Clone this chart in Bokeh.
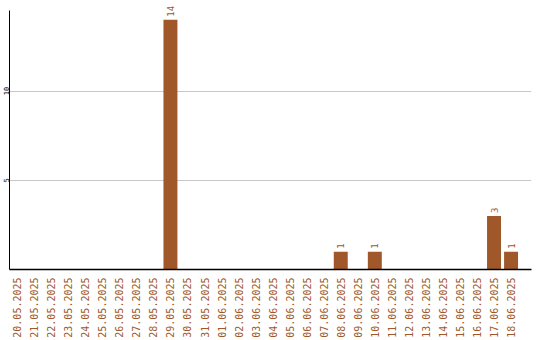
import math
from bokeh.plotting import figure
from bokeh.models import ColumnDataSource, FixedTicker, Range1d
from bokeh.core.properties import value
from bokeh.embed import file_html
from bokeh.resources import INLINE

# Daily counts, 20.05.2025 - 18.06.2025
days = [
    "20.05.2025", "21.05.2025", "22.05.2025", "23.05.2025", "24.05.2025",
    "25.05.2025", "26.05.2025", "27.05.2025", "28.05.2025", "29.05.2025",
    "30.05.2025", "31.05.2025", "01.06.2025", "02.06.2025", "03.06.2025",
    "04.06.2025", "05.06.2025", "06.06.2025", "07.06.2025", "08.06.2025",
    "09.06.2025", "10.06.2025", "11.06.2025", "12.06.2025", "13.06.2025",
    "14.06.2025", "15.06.2025", "16.06.2025", "17.06.2025", "18.06.2025",
]
counts = [0, 0, 0, 0, 0, 0, 0, 0, 0, 14,
          0, 0, 0, 0, 0, 0, 0, 0, 0, 1,
          0, 1, 0, 0, 0, 0, 0, 0, 3, 1]
y_ticks = [5, 10]

BAR = "#a0572a"
MONO = "DejaVu Sans Mono"

idx = list(range(len(days)))
bars = ColumnDataSource(dict(x=idx, top=counts))
shown = [i for i, c in zip(idx, counts) if c > 0]
labels = ColumnDataSource(dict(x=shown, y=[counts[i] for i in shown],
                               t=[str(counts[i]) for i in shown]))

p = figure(width=540, height=340, output_backend="svg", toolbar_location=None,
           x_range=Range1d(-0.45, 30.2), y_range=Range1d(0, 14.85),
           min_border_left=0, min_border_right=9, min_border_top=4,
           min_border_bottom=0)
p.outline_line_color = None
p.background_fill_color = "white"
p.border_fill_color = "white"

p.vbar(x="x", top="top", width=0.82, source=bars, fill_color=BAR, line_color=None)

# value labels above the bars, reading upwards
p.text(x="x", y="y", text="t", source=labels, angle=math.pi / 2,
       text_align="left", text_baseline="middle", y_offset=-3,
       text_color=BAR, text_font=value(MONO), text_font_size="9px")

# x axis: one rotated date per bar
p.xaxis.ticker = FixedTicker(ticks=idx)
p.xaxis.major_label_overrides = {i: d for i, d in enumerate(days)}
p.xaxis.major_label_orientation = math.pi / 2
p.xaxis.major_label_text_color = BAR
p.xaxis.major_label_text_font = MONO
p.xaxis.major_label_text_font_size = "10px"
p.xaxis.major_label_standoff = 2
p.xaxis.major_tick_line_color = None
p.xaxis.minor_tick_line_color = None
p.xaxis.axis_line_color = "black"
p.xaxis.axis_line_width = 1.5

# y axis
p.yaxis.ticker = FixedTicker(ticks=y_ticks)
p.yaxis.bounds = (0, 14.5)
p.yaxis.major_label_orientation = "vertical"
p.yaxis.major_label_text_font = MONO
p.yaxis.major_label_text_font_size = "7px"
p.yaxis.major_label_text_color = "black"
p.yaxis.major_label_standoff = 0
p.yaxis.major_tick_in = 0
p.yaxis.major_tick_out = 0
p.yaxis.major_tick_line_color = None
p.yaxis.minor_tick_line_color = None
p.yaxis.axis_line_color = "black"
p.yaxis.axis_line_width = 1

p.xgrid.grid_line_color = None
p.ygrid.grid_line_color = "#c8c8c8"
p.ygrid.ticker = FixedTicker(ticks=y_ticks)

open("out.html", "w").write(file_html(p, INLINE))
